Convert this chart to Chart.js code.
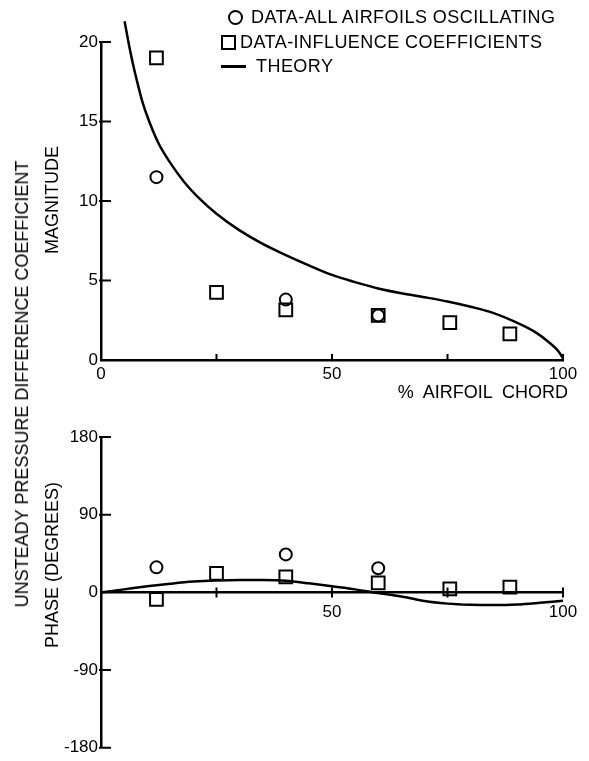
<!DOCTYPE html>
<html>
<head>
<meta charset="utf-8">
<script src="https://cdn.jsdelivr.net/npm/chart.js@4/dist/chart.umd.min.js"></script>
<style>
  html, body { margin: 0; padding: 0; background: #fff; }
  body { width: 589px; height: 761px; position: relative; overflow: hidden;
         font-family: "Liberation Sans", Arial, sans-serif; color: #000; }
  canvas { position: absolute; left: 0; }
  #c1 { top: 0; }
  #c2 { top: 400px; }
  .lbl { position: absolute; white-space: pre; font-size: 18px; line-height: 18px; color: #000; }
  .leg { letter-spacing: 0.45px; }
  .rot { transform: translate(-50%, -50%) rotate(-90deg); }
  .sym-c { position: absolute; width: 11px; height: 11px; border: 2px solid #000; border-radius: 50%; }
  .sym-s { position: absolute; width: 11px; height: 11px; border: 2px solid #000; }
  .sym-l { position: absolute; width: 25px; height: 2.5px; background: #000; }
</style>
</head>
<body>
<canvas id="c1" width="589" height="400"></canvas>
<canvas id="c2" width="589" height="361"></canvas>

<div class="lbl rot" style="left:22px; top:384px;">UNSTEADY PRESSURE DIFFERENCE COEFFICIENT</div>
<div class="lbl rot" style="left:52px; top:200px;">MAGNITUDE</div>
<div class="lbl rot" style="left:52px; top:565px;">PHASE (DEGREES)</div>
<div class="lbl" style="right:21px; top:383px;">%  AIRFOIL  CHORD</div>

<div class="sym-c" style="left:228px; top:10px;"></div>
<div class="lbl leg" style="left:251px; top:8px;">DATA-ALL AIRFOILS OSCILLATING</div>
<div class="sym-s" style="left:221px; top:35px;"></div>
<div class="lbl leg" style="left:240px; top:33px;">DATA-INFLUENCE COEFFICIENTS</div>
<div class="sym-l" style="left:221px; top:65px;"></div>
<div class="lbl leg" style="left:256px; top:57px;">THEORY</div>

<script>
// ---------- data ----------
const chordTicks = [0, 25, 50, 75, 100];
const magTicks = [0, 5, 10, 15, 20];
const phaseTicks = [-180, -90, 0, 90, 180];

const oscX = [12, 40, 60];
const oscMag = [11.5, 3.8, 2.8];
const oscPhase = [29, 44, 28];

const infX = [12, 25, 40, 60, 75.5, 88.5];
const infMag = [19.0, 4.25, 3.15, 2.8, 2.35, 1.65];
const infPhase = [-8, 22, 18, 11, 4, 6];

const theoryMagX = [5.1, 6, 7, 8, 9, 10.5, 12.5, 15, 18, 21.5, 25, 30, 35, 40, 45, 50, 55, 60, 65, 70, 75, 80, 85, 90, 94, 97, 99, 100];
const theoryMagY = [21.3, 19.9, 18.5, 17.3, 16.2, 14.95, 13.6, 12.4, 11.2, 10.1, 9.2, 8.15, 7.3, 6.6, 5.95, 5.35, 4.9, 4.5, 4.2, 3.95, 3.68, 3.35, 2.95, 2.35, 1.75, 1.1, 0.55, 0.1];

const theoryPhaseX = [0, 5, 10, 15, 20, 25, 30, 35, 40, 45, 50, 55, 59, 63, 66, 70, 75, 80, 85, 90, 95, 100];
const theoryPhaseY = [0, 3.5, 7, 10, 12.5, 13.9, 14.5, 14.4, 13.5, 10.5, 7, 3.5, 0, -3, -5.5, -10, -13, -14.3, -14.6, -14, -12, -9.6];

const pts = (xs, ys) => xs.map((x, i) => ({ x: x, y: ys[i] }));

// ---------- inward tick marks ----------
const inTicks = {
  id: 'inTicks',
  afterDatasetsDraw(chart, args, o) {
    const ctx = chart.ctx, xs = chart.scales.x, ys = chart.scales.y;
    ctx.save();
    ctx.strokeStyle = '#000';
    ctx.lineWidth = 2;
    ctx.beginPath();
    o.yVals.forEach(v => {
      const py = ys.getPixelForValue(v);
      ctx.moveTo(ys.right - o.yBack, py);
      ctx.lineTo(ys.right + o.yLen, py);
    });
    const base = ys.getPixelForValue(o.xAt);
    o.xVals.forEach(v => {
      const px = xs.getPixelForValue(v);
      ctx.moveTo(px, base + o.xDown);
      ctx.lineTo(px, base - o.xUp);
    });
    ctx.stroke();
    ctx.restore();
  }
};

const font = { family: '"Liberation Sans", Arial, sans-serif', size: 17 };
const ink = '#000';

function common(extra) {
  return Object.assign({
    responsive: false,
    animation: false,
    devicePixelRatio: 1,
    events: [],
    plugins: { legend: { display: false }, tooltip: { enabled: false } }
  }, extra);
}

function datasets(oscY, infY, thX, thY) {
  return [
    { label: 'DATA-ALL AIRFOILS OSCILLATING', data: pts(oscX, oscY), pointStyle: 'circle',
      pointRadius: 6, borderColor: ink, backgroundColor: 'rgba(0,0,0,0)', borderWidth: 2, showLine: false },
    { label: 'DATA-INFLUENCE COEFFICIENTS', data: pts(infX, infY), pointStyle: 'rect',
      pointRadius: 9, borderColor: ink, backgroundColor: 'rgba(0,0,0,0)', borderWidth: 2, showLine: false },
    { label: 'THEORY', data: pts(thX, thY), showLine: true, pointRadius: 0, borderColor: ink,
      borderWidth: 2.5, cubicInterpolationMode: 'monotone', fill: false, clip: false }
  ];
}

// ---------- top chart: magnitude ----------
new Chart(document.getElementById('c1'), {
  type: 'scatter',
  data: { datasets: datasets(oscMag, infMag, theoryMagX, theoryMagY) },
  options: common({
    layout: { padding: { left: 61, right: 26, top: 42, bottom: 0 } },
    scales: {
      x: {
        type: 'linear', position: 'bottom', min: 0, max: 100,
        afterFit: s => { s.height = 40; },
        afterBuildTicks: s => { s.ticks = chordTicks.map(v => ({ value: v })); },
        grid: { display: false, drawTicks: false },
        border: { display: true, color: ink, width: 2.5 },
        ticks: { color: ink, font: font, padding: 4, maxRotation: 0,
                 callback: v => (v === 25 || v === 75) ? '' : String(v) }
      },
      y: {
        type: 'linear', position: 'left', min: 0, max: 20,
        afterFit: s => { s.width = 40; },
        afterBuildTicks: s => { s.ticks = magTicks.map(v => ({ value: v })); },
        grid: { display: false, drawTicks: false },
        border: { display: true, color: ink, width: 2.5 },
        ticks: { color: ink, font: font, padding: 3, callback: v => String(v) }
      }
    },
    plugins: {
      legend: { display: false }, tooltip: { enabled: false },
      inTicks: { yVals: [5, 10, 15, 20], yLen: 10, yBack: 2, xVals: [25, 50, 75, 100], xAt: 0, xUp: 6, xDown: 0 }
    }
  }),
  plugins: [inTicks]
});

// ---------- bottom chart: phase ----------
new Chart(document.getElementById('c2'), {
  type: 'scatter',
  data: { datasets: datasets(oscPhase, infPhase, theoryPhaseX, theoryPhaseY) },
  options: common({
    layout: { padding: { left: 61, right: 26, top: 37, bottom: 13 } },
    scales: {
      x: {
        type: 'linear', position: { y: 0 }, min: 0, max: 100,
        afterBuildTicks: s => { s.ticks = chordTicks.map(v => ({ value: v })); },
        grid: { display: false, drawTicks: false },
        border: { display: true, color: ink, width: 2.5 },
        ticks: { color: ink, font: font, padding: 10, maxRotation: 0,
                 callback: v => (v === 50 || v === 100) ? String(v) : '' }
      },
      y: {
        type: 'linear', position: 'left', min: -180, max: 180,
        afterFit: s => { s.width = 40; },
        afterBuildTicks: s => { s.ticks = phaseTicks.map(v => ({ value: v })); },
        grid: { display: false, drawTicks: false },
        border: { display: true, color: ink, width: 2.5 },
        ticks: { color: ink, font: font, padding: 3, callback: v => String(v) }
      }
    },
    plugins: {
      legend: { display: false }, tooltip: { enabled: false },
      inTicks: { yVals: [-180, -90, 90, 180], yLen: 10, yBack: 2, xVals: [25, 50, 75, 100], xAt: 0, xUp: 5, xDown: 5 }
    }
  }),
  plugins: [inTicks]
});
</script>
</body>
</html>
